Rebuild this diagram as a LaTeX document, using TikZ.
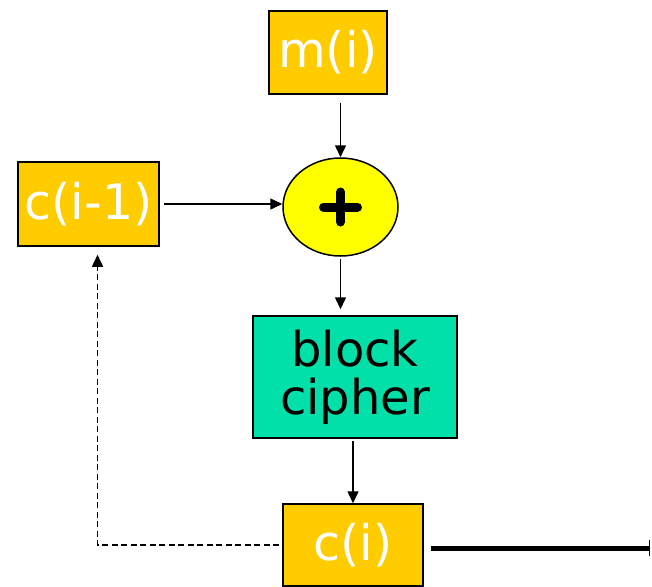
\documentclass[tikz,border=0pt]{standalone}
\usepackage{fontspec}
\setmainfont{DejaVu Sans}
\usetikzlibrary{arrows.meta,shapes.geometric,calc}
\definecolor{gold}{RGB}{255,204,0}
\definecolor{xoryellow}{RGB}{255,255,0}
\definecolor{ciphergreen}{RGB}{0,224,168}
\begin{document}
\begin{tikzpicture}[x=1pt,y=-1pt,
  valbox/.style={draw=black,line width=1.5pt,fill=gold,text=white,inner sep=0pt,
    font=\fontsize{49}{52}\selectfont},
  cipherbox/.style={draw=black,line width=1.5pt,fill=ciphergreen,text=black,inner sep=0pt,
    align=center,font=\fontsize{48}{48}\selectfont},
  xornode/.style={ellipse,draw=black,line width=1.5pt,fill=xoryellow,inner sep=0pt,
    minimum width=115pt,minimum height=98pt},
  flow/.style={line width=1.5pt,-{Triangle[length=12pt,width=11pt]}},
  feedback/.style={line width=1.5pt,dash pattern=on 6pt off 3.5pt,-{Triangle[length=12pt,width=11pt]}},
  output/.style={line width=5pt,-{Bar[width=16pt,line width=1.5pt]}}
]
\useasboundingbox (0,0) rectangle (652,586);
\clip (0,0) rectangle (652,586);
\node[valbox,minimum width=118pt,minimum height=83pt] (mi) at (328,52.5) {m(i)};
\node[valbox,minimum width=141pt,minimum height=84pt] (cim1) at (88.5,204) {c(i-1)};
\node[xornode] (xor) at (340.5,207) {};
\draw[line width=9pt,line cap=round] ($(xor.center)+(-17,0)$) -- ($(xor.center)+(17,0)$);
\draw[line width=9pt,line cap=round] ($(xor.center)+(0,-15)$) -- ($(xor.center)+(0,15)$);
\node[cipherbox,minimum width=204pt,minimum height=122pt] (bc) at (355,377) {block\\cipher};
\node[valbox,minimum width=140pt,minimum height=82pt] (ci) at (353,545) {c(i)};
\coordinate (outend) at (650,548);
\coordinate (fbcorner) at ($(cim1.south)+(9,0)$);
\draw[flow,shorten <=8pt] (mi.south -| xor.north) -- (xor.north);
\draw[flow,shorten <=4pt] (cim1.east) -- (cim1.east -| xor.west);
\draw[flow,shorten <=2pt,shorten >=6pt] (xor.south) -- (bc.north -| xor.south);
\draw[flow,shorten <=2pt] (bc.south -| ci.north) -- (ci.north);
\draw[feedback,shorten <=3pt,shorten >=8pt] (ci.west) -- (ci.west -| fbcorner) -- (fbcorner);
\draw[output] ($(ci.east)+(7,3)$) -- (outend);
\end{tikzpicture}
\end{document}
